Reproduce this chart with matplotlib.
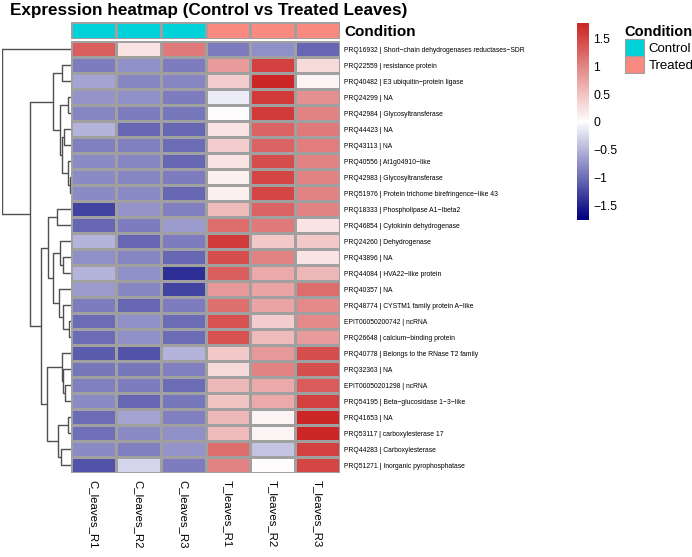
import numpy as np
import matplotlib
matplotlib.use("Agg")
import matplotlib.pyplot as plt
from matplotlib.colors import LinearSegmentedColormap, ListedColormap
from matplotlib.patches import Patch

plt.rcParams['font.family'] = ['Liberation Sans', 'DejaVu Sans']

samples = ["C_leaves_R1", "C_leaves_R2", "C_leaves_R3",
           "T_leaves_R1", "T_leaves_R2", "T_leaves_R3"]
condition = ["Control", "Control", "Control", "Treated", "Treated", "Treated"]
cond_colors = {"Control": "#00D2D9", "Treated": "#F98A80"}

genes = [
    "PRQ16932 | Short\u2212chain dehydrogenases reductases\u2212SDR",
    "PRQ22559 | resistance protein",
    "PRQ40482 | E3 ubiquitin\u2212protein ligase",
    "PRQ24299 | NA",
    "PRQ42984 | Glycosyltransferase",
    "PRQ44423 | NA",
    "PRQ43113 | NA",
    "PRQ40556 | At1g04910\u2212like",
    "PRQ42983 | Glycosyltransferase",
    "PRQ51976 | Protein trichome birefringence\u2212like 43",
    "PRQ18333 | Phospholipase A1\u2212Ibeta2",
    "PRQ46854 | Cytokinin dehydrogenase",
    "PRQ24260 | Dehydrogenase",
    "PRQ43896 | NA",
    "PRQ44084 | HVA22\u2212like protein",
    "PRQ40357 | NA",
    "PRQ48774 | CYSTM1 family protein A\u2212like",
    "EPIT00050200742 | ncRNA",
    "PRQ26648 | calcium\u2212binding protein",
    "PRQ40778 | Belongs to the RNase T2 family",
    "PRQ32363 | NA",
    "EPIT00050201298 | ncRNA",
    "PRQ54195 | Beta\u2212glucosidase 1\u22123\u2212like",
    "PRQ41653 | NA",
    "PRQ53117 | carboxylesterase 17",
    "PRQ44283 | Carboxylesterase",
    "PRQ51271 | Inorganic pyrophosphatase",
]

# row z-scores
z = np.array([
    [ 1.30,  0.25,  1.10, -0.90, -0.75, -1.05],
    [-0.90, -0.75, -0.90,  0.80,  1.55,  0.30],
    [-0.60, -0.82, -0.82,  0.40,  1.78,  0.10],
    [-0.72, -0.75, -0.90, -0.12,  1.60,  0.90],
    [-0.82, -0.90, -0.95,  0.03,  1.60,  1.00],
    [-0.52, -1.05, -1.05,  0.25,  1.25,  1.10],
    [-0.85, -0.85, -1.00,  0.40,  1.25,  1.05],
    [-0.78, -0.82, -1.05,  0.25,  1.45,  1.00],
    [-0.78, -0.82, -0.90,  0.12,  1.50,  1.00],
    [-0.78, -0.78, -1.05,  0.12,  1.50,  1.00],
    [-1.30, -0.72, -0.85,  0.55,  1.25,  1.00],
    [-1.05, -0.90, -0.70,  1.20,  1.10,  0.25],
    [-0.52, -1.05, -0.90,  1.60,  0.45,  0.45],
    [-0.75, -0.82, -1.05,  1.45,  1.00,  0.25],
    [-0.52, -0.75, -1.45,  1.30,  0.70,  0.60],
    [-0.70, -0.82, -1.30,  0.85,  0.75,  1.20],
    [-0.90, -1.05, -0.90,  1.15,  0.75,  0.95],
    [-1.00, -0.75, -1.00,  1.40,  0.40,  0.95],
    [-1.00, -0.75, -1.00,  1.40,  0.55,  0.80],
    [-1.10, -1.20, -0.52,  0.45,  0.85,  1.45],
    [-0.95, -0.95, -0.85,  0.30,  1.00,  1.45],
    [-0.85, -0.90, -1.00,  0.60,  0.70,  1.35],
    [-0.78, -1.05, -0.95,  0.50,  0.70,  1.55],
    [-1.00, -0.62, -0.85,  0.60,  0.08,  1.75],
    [-0.98, -0.78, -0.75,  0.55,  0.08,  1.78],
    [-0.78, -0.85, -0.72,  1.20, -0.40,  1.55],
    [-1.20, -0.30, -0.90,  1.00,  0.03,  1.50],
])

# row dendrogram: [left, right, height]
tree = [0,
        [[[1, 2, 0.13],
          [[3, 4, 0.043], [[5, 6, 0.10], [7, [8, 9, 0.015], 0.045], 0.13], 0.16],
          0.26],
         [[[10, 11, 0.20],
           [[12, [13, 14, 0.116], 0.16], [15, [16, [17, 18, 0.03], 0.116], 0.17], 0.26],
           0.33],
          [[19, [20, [21, 22, 0.087], 0.116], 0.13],
           [[23, 24, 0.043], [25, 26, 0.145], 0.19],
           0.35],
          0.435],
         0.594],
        1.0]

vmin, vmax = -1.77, 1.78
cb_ticks = [-1.5, -1, -0.5, 0, 0.5, 1, 1.5]

W, H = 692, 557
fig = plt.figure(figsize=(W / 100, H / 100), dpi=100)


def box(x0, y0, x1, y1):
    return [x0 / W, 1 - y1 / H, (x1 - x0) / W, (y1 - y0) / H]


cmap = LinearSegmentedColormap.from_list("nwr", ["navy", "white", "#CD2626"])
cmap = ListedColormap(cmap(np.linspace(0, 1, 100)))
n = len(genes)
grid = "#A0A0A0"

# heatmap
ax = fig.add_axes(box(71, 41, 340, 473))
mesh = ax.pcolormesh(z, cmap=cmap, vmin=vmin, vmax=vmax, edgecolors=grid, linewidth=0.8)
ax.set_xlim(0, len(samples))
ax.set_ylim(n, 0)
ax.set_yticks(np.arange(n) + 0.5)
ax.set_yticklabels(genes, fontsize=4.9)
ax.yaxis.tick_right()
ax.set_xticks(np.arange(len(samples)) + 0.5)
ax.set_xticklabels(samples, rotation=270, fontsize=8.2, va="top", ha="center")
ax.tick_params(length=0, pad=3)
ax.tick_params(axis="x", pad=5)
for s in ax.spines.values():
    s.set_visible(False)

# annotation bar
axa = fig.add_axes(box(71, 22, 340, 39))
cond_idx = np.array([[0 if c == "Control" else 1 for c in condition]])
axa.pcolormesh(cond_idx, cmap=ListedColormap([cond_colors["Control"], cond_colors["Treated"]]),
               vmin=0, vmax=1, edgecolors=grid, linewidth=0.8)
axa.set_xlim(0, len(samples))
axa.set_ylim(1, 0)
axa.set_xticks([])
axa.set_yticks([0.5])
axa.set_yticklabels(["Condition"], fontsize=11, fontweight="bold")
axa.yaxis.tick_right()
axa.tick_params(length=0, pad=3)
for s in axa.spines.values():
    s.set_visible(False)

# dendrogram
axd = fig.add_axes(box(2, 41, 71, 473))


def draw(node):
    if isinstance(node, int):
        return node + 0.5, 0.0
    l, r, h = node
    yl, hl = draw(l)
    yr, hr = draw(r)
    axd.plot([hl, h, h, hr], [yl, yl, yr, yr], color="#505050", lw=1.0,
             solid_capstyle="butt")
    return (yl + yr) / 2, h


draw(tree)
axd.set_xlim(1.0, 0)
axd.set_ylim(n, 0)
axd.axis("off")

# colour bar
axc = fig.add_axes(box(577, 23, 589, 220))
cb = fig.colorbar(mesh, cax=axc, ticks=cb_ticks)
cb.outline.set_visible(False)
cb.ax.set_yticklabels([f"{t:g}".replace("-", "\u2212") for t in cb_ticks], fontsize=8.8)
cb.ax.tick_params(length=0, pad=3)

# legend
handles = [Patch(facecolor=cond_colors[k], edgecolor=grid, linewidth=0.8, label=k)
           for k in ["Control", "Treated"]]
leg = fig.legend(handles=handles, title="Condition", loc="upper left",
                 bbox_to_anchor=(622 / W, 1 - 22 / H), frameon=False, fontsize=9.5,
                 handlelength=1.45, handleheight=1.55, labelspacing=0.05,
                 handletextpad=0.35, borderpad=0.2, borderaxespad=0)
leg.get_title().set_fontweight("bold")
leg.get_title().set_fontsize(10.5)
leg._legend_box.align = "left"

fig.text(10 / W, 1 - 3 / H, "Expression heatmap (Control vs Treated Leaves)",
         fontsize=12.3, fontweight="bold", va="top", ha="left")

fig.savefig("out.png", dpi=100)
